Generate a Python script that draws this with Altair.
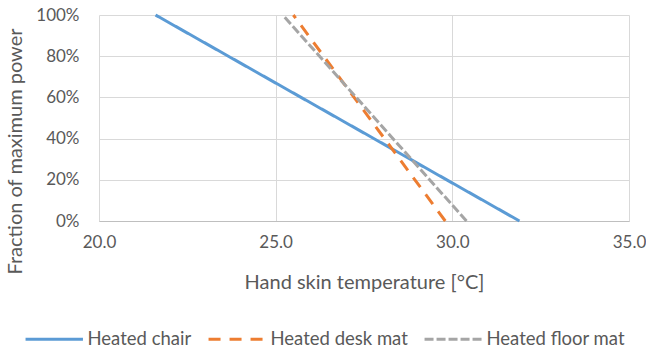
import altair as alt
import pandas as pd

# Hand skin temperature at which each heater runs at full power and at zero power
series = ["Heated chair", "Heated desk mat", "Heated floor mat"]
temp_full_power = [21.6, 25.5, 25.2]
temp_zero_power = [31.9, 29.8, 30.4]

colors = ["#5B9BD5", "#ED7D31", "#A5A5A5"]
dashes = [[1, 0], [12, 9], [9, 3]]
x_ticks = [20, 25, 30, 35]
y_ticks = [0, 0.2, 0.4, 0.6, 0.8, 1.0]

rows = []
for name, t_full, t_zero in zip(series, temp_full_power, temp_zero_power):
    rows.append({"series": name, "temp": t_zero, "power": 0.0, "step": 0})
    rows.append({"series": name, "temp": t_full, "power": 1.0, "step": 1})
df = pd.DataFrame(rows)

font = "Lato"
text_color = "#595959"
fs = 17
title_fs = 20
legend_fs = 18.5

# long flat line symbol drawn from a small symbol size, so rows stay label-high
legend = alt.Legend(
    title=None,
    orient="none",
    direction="horizontal",
    legendX=-54,
    legendY=315,
    gridAlign="none",
    symbolType="M-4,0H4",
    symbolSize=206,
    symbolStrokeWidth=3,
    labelFont=font,
    labelFontSize=legend_fs,
    labelColor=text_color,
    labelOffset=24,
    columnPadding=10,
)

chart = (
    alt.Chart(df)
    .mark_line(strokeWidth=3, strokeCap="butt")
    .encode(
        x=alt.X(
            "temp:Q",
            scale=alt.Scale(domain=[20, 35], nice=False, zero=False),
            axis=alt.Axis(
                values=x_ticks,
                format=".1f",
                title="Hand skin temperature [°C]",
                labelFlush=False,
                labelBaseline="alphabetic",
                labelPadding=26,
                ticks=False,
                tickSize=0,
                domain=True,
                domainColor="#BFBFBF",
                domainWidth=1,
                grid=True,
                titleBaseline="alphabetic",
                titleY=67,
            ),
        ),
        y=alt.Y(
            "power:Q",
            scale=alt.Scale(domain=[0, 1], nice=False),
            axis=alt.Axis(
                values=y_ticks,
                format=".0%",
                title="Fraction of maximum power",
                labelFlush=False,
                labelPadding=20,
                ticks=False,
                tickSize=0,
                domain=False,
                grid=True,
                titleAngle=-90,
                titleBaseline="middle",
                titleX=-84,
                titleY=136,
            ),
        ),
        color=alt.Color("series:N", scale=alt.Scale(domain=series, range=colors), legend=legend),
        strokeDash=alt.StrokeDash("series:N", scale=alt.Scale(domain=series, range=dashes), legend=legend),
        order="step:Q",
    )
    .properties(
        width=530,
        height=206,
        autosize=alt.AutoSizeParams(type="none"),
        padding={"left": 99, "top": 15, "right": 17, "bottom": 126},
        background="white",
    )
    .configure_view(stroke="transparent")
    .configure_axis(
        labelFont=font,
        labelFontSize=fs,
        labelColor=text_color,
        titleFont=font,
        titleFontSize=title_fs,
        titleColor=text_color,
        titleFontWeight="normal",
        gridColor="#D9D9D9",
        gridWidth=1,
    )
)

chart.save("out.html", embed_options={"renderer": "svg", "actions": False})
